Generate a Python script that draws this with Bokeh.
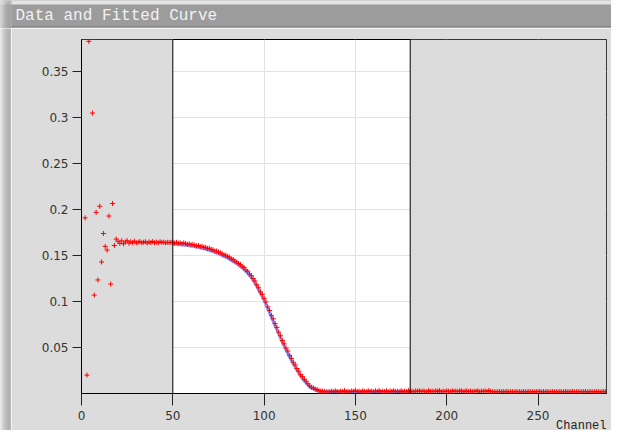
from bokeh.plotting import figure
from bokeh.layouts import column, row
from bokeh.models import BoxAnnotation, Span, Label, FixedTicker, Range1d
from bokeh.embed import file_html
from bokeh.resources import INLINE

# ---------------- data ----------------
title_text = "Data and Fitted Curve"
x_label = "Channel"
x_ticks = [0, 50, 100, 150, 200, 250]
x_tick_labels = ["0", "50", "100", "150", "200", "250"]
y_ticks = [0.05, 0.1, 0.15, 0.2, 0.25, 0.3, 0.35]
y_tick_labels = ["0.05", "0.1", "0.15", "0.2", "0.25", "0.3", "0.35"]
x_min, x_max = 0, 287.5
y_min, y_max = 0, 0.385
fit_start, fit_end = 50, 180

early_x = [2, 3, 4, 6, 7, 8, 9, 10, 11, 12, 13, 14, 15, 16, 17, 18, 19]
early_y = [0.191, 0.020, 0.383, 0.305, 0.107, 0.197, 0.1235, 0.2036, 0.143,
           0.174, 0.160, 0.156, 0.193, 0.119, 0.2066, 0.161, 0.168]

# channels 20..49
plateau_y = [0.1655, 0.1632, 0.1660, 0.1628, 0.1648, 0.1662, 0.1635, 0.1650, 0.1641, 0.1656,
             0.1637, 0.1646, 0.1652, 0.1639, 0.1645, 0.1650, 0.1636, 0.1648, 0.1642, 0.1653,
             0.1640, 0.1647, 0.1638, 0.1651, 0.1643, 0.1646, 0.1639, 0.1644, 0.1641, 0.1643]

# channels 50..135
decline_y = [0.1645, 0.1636, 0.1644, 0.1633, 0.1640, 0.1629, 0.1638, 0.1631, 0.1622, 0.1628,
             0.1617, 0.1622, 0.1614, 0.1606, 0.1610, 0.1598, 0.1601, 0.1592, 0.1589, 0.1577,
             0.1580, 0.1566, 0.1563, 0.1549, 0.1550, 0.1538, 0.1531, 0.1520, 0.1506, 0.1504,
             0.1490, 0.1482, 0.1465, 0.1458, 0.1440, 0.1431, 0.1414, 0.1404, 0.1382, 0.1370,
             0.1345, 0.1330, 0.1301, 0.1282, 0.1250, 0.1224, 0.1183, 0.1150, 0.1106, 0.1078,
             0.1034, 0.0995, 0.0942, 0.0903, 0.0850, 0.0812, 0.0760, 0.0719, 0.0668, 0.0628,
             0.0576, 0.0540, 0.0494, 0.0461, 0.0415, 0.0381, 0.0340, 0.0312, 0.0272, 0.0243,
             0.0205, 0.0183, 0.0154, 0.0133, 0.0106, 0.0084, 0.0068, 0.0061, 0.0049, 0.0042,
             0.0031, 0.0027, 0.0025, 0.0023, 0.0020, 0.0019]

# channels 136..287
tail_y = [0.0020, 0.0026, 0.0018, 0.0029, 0.0022, 0.0017, 0.0027, 0.0021, 0.0031, 0.0019,
          0.0024, 0.0018, 0.0028, 0.0022, 0.0033, 0.0020, 0.0025, 0.0017, 0.0029, 0.0023,
          0.0019, 0.0030, 0.0022, 0.0026, 0.0018, 0.0028, 0.0021, 0.0032, 0.0019, 0.0025,
          0.0022, 0.0029, 0.0017, 0.0027, 0.0023, 0.0031, 0.0020, 0.0024, 0.0018, 0.0030,
          0.0021, 0.0026, 0.0019, 0.0033, 0.0022, 0.0025, 0.0018, 0.0028, 0.0023, 0.0030,
          0.0020, 0.0027, 0.0024, 0.0017, 0.0031, 0.0022, 0.0026, 0.0019, 0.0029, 0.0023,
          0.0032, 0.0018, 0.0025, 0.0021, 0.0028, 0.0024, 0.0019, 0.0030, 0.0022, 0.0027,
          0.0020, 0.0026, 0.0031, 0.0018, 0.0024, 0.0029, 0.0021, 0.0027, 0.0019, 0.0025,
          0.0023, 0.0030, 0.0017, 0.0026, 0.0022, 0.0028, 0.0020, 0.0032, 0.0024, 0.0019,
          0.0021, 0.0016, 0.0019, 0.0022, 0.0017, 0.0020, 0.0018, 0.0023, 0.0016, 0.0021,
          0.0019, 0.0017, 0.0022, 0.0018, 0.0020, 0.0016, 0.0021, 0.0019, 0.0017, 0.0022,
          0.0018, 0.0020, 0.0016, 0.0021, 0.0019, 0.0023, 0.0017, 0.0020, 0.0018, 0.0022,
          0.0016, 0.0019, 0.0021, 0.0017, 0.0020, 0.0018, 0.0022, 0.0016, 0.0019, 0.0021,
          0.0017, 0.0020, 0.0018, 0.0023, 0.0016, 0.0019, 0.0021, 0.0017, 0.0020, 0.0018,
          0.0022, 0.0016, 0.0019, 0.0021, 0.0017, 0.0020, 0.0018, 0.0022, 0.0016, 0.0019,
          0.0021, 0.0017]

rest_y = plateau_y + decline_y + tail_y
data_x = early_x + list(range(20, 20 + len(rest_y)))
data_y = early_y + rest_y

fit_x = list(range(50, 136)) + [140, 150, 160, 170, 180]
fit_y = [0.1625, 0.1623, 0.1622, 0.1620, 0.1619, 0.1617, 0.1615, 0.1612, 0.1610, 0.1607,
         0.1605, 0.1601, 0.1597, 0.1593, 0.1589, 0.1585, 0.1579, 0.1574, 0.1568, 0.1563,
         0.1557, 0.1550, 0.1542, 0.1535, 0.1527, 0.1520, 0.1511, 0.1501, 0.1492, 0.1482,
         0.1473, 0.1460, 0.1448, 0.1435, 0.1423, 0.1410, 0.1396, 0.1381, 0.1365, 0.1347,
         0.1328, 0.1307, 0.1284, 0.1259, 0.1231, 0.1200, 0.1163, 0.1126, 0.1089, 0.1052,
         0.1015, 0.0969, 0.0923, 0.0877, 0.0831, 0.0785, 0.0739, 0.0693, 0.0647, 0.0601,
         0.0555, 0.0515, 0.0475, 0.0435, 0.0395, 0.0355, 0.0321, 0.0287, 0.0253, 0.0220,
         0.0187, 0.0163, 0.0139, 0.0115, 0.0091, 0.0068, 0.0058, 0.0049, 0.0040, 0.0031,
         0.0022, 0.0020, 0.0018, 0.0017, 0.0016, 0.0015,
         0.0015, 0.0015, 0.0015, 0.0015, 0.0015]

# ---------------- styles ----------------
PANEL = "#dcdcdc"
BAR = "#9c9c9c"
W = 611
TOP_H = 28
MAIN_H = 402
SIDE_W = 11
SHADE = ["#e8e8e8", "#dcdcdc", "#d0d0d0", "#c6c6c6", "#bcbcbc",
         "#b4b4b4", "#aeaeae", "#a8a8a8", "#a4a4a4", "#a2a2a2", "#b0b0b0"]


def no_frame_align(fig):
    if "frame_align" in fig.properties():
        fig.frame_align = False


def chrome_fig(w, h):
    f = figure(width=w, height=h, output_backend="svg", toolbar_location=None,
               x_range=Range1d(0, w), y_range=Range1d(0, h), min_border=0)
    no_frame_align(f)
    f.axis.visible = False
    f.grid.visible = False
    f.outline_line_color = None
    return f


def add_side_shadow(f):
    for i, c in enumerate(SHADE):
        f.add_layout(BoxAnnotation(left=i, right=i + 1, fill_color=c, fill_alpha=1.0,
                                   line_color=None))


# ---- title bar ----
top = chrome_fig(W, TOP_H)
top.border_fill_color = BAR
top.background_fill_color = BAR
top.add_layout(BoxAnnotation(bottom=TOP_H - 4, fill_color="#e4e4e4", fill_alpha=1.0,
                             line_color=None))
top.add_layout(BoxAnnotation(top=2, bottom=1, left=SIDE_W, fill_color="#6e6e6e",
                             fill_alpha=1.0, line_color=None))
top.add_layout(BoxAnnotation(top=1, left=SIDE_W, fill_color="#c8c8c8",
                             fill_alpha=1.0, line_color=None))
add_side_shadow(top)
top.add_layout(Label(x=15, y=13, text=title_text, text_font="Liberation Mono",
                     text_font_size="16px", text_color="#f2f2f2", text_baseline="middle"))

# ---- left window edge ----
side = chrome_fig(SIDE_W, MAIN_H)
side.border_fill_color = PANEL
side.background_fill_color = PANEL
add_side_shadow(side)

# ---- main plot ----
p = figure(width=W - SIDE_W, height=MAIN_H, output_backend="svg", toolbar_location=None,
           x_range=Range1d(x_min, x_max), y_range=Range1d(y_min, y_max),
           title=x_label, title_location="below",
           min_border_left=81 - SIDE_W, min_border_right=5, min_border_top=11,
           min_border_bottom=37)
no_frame_align(p)
p.background_fill_color = "white"
p.border_fill_color = PANEL
p.outline_line_color = "black"
p.outline_line_width = 1

# the x-axis name sits at the lower right, as in the original window
p.title.align = "right"
p.title.text_font = "Liberation Mono"
p.title.text_font_size = "12px"
p.title.text_font_style = "normal"
p.title.text_color = "#222222"
p.title.standoff = -20
p.title.offset = 0

p.xaxis.ticker = FixedTicker(ticks=x_ticks)
p.yaxis.ticker = FixedTicker(ticks=y_ticks)
p.xaxis.major_label_overrides = dict(zip(x_ticks, x_tick_labels))
p.yaxis.major_label_overrides = dict(zip(y_ticks, y_tick_labels))
p.xgrid.ticker = FixedTicker(ticks=x_ticks)
p.ygrid.ticker = FixedTicker(ticks=y_ticks)
p.grid.grid_line_color = "#e2e2e2"
p.grid.grid_line_width = 1

for ax in (p.xaxis, p.yaxis):
    ax.axis_line_color = "black"
    ax.major_tick_line_color = "#222222"
    ax.major_tick_in = 0
    ax.minor_tick_out = 0
    ax.minor_tick_in = 0
    ax.major_label_text_font = "DejaVu Sans"
    ax.major_label_text_font_size = "12px"
    ax.major_label_text_color = "#333333"
p.xaxis.major_tick_out = 12
p.yaxis.major_tick_out = 9
p.xaxis.major_label_standoff = 5
p.yaxis.major_label_standoff = 4

# shaded (outside fit range) regions
p.add_layout(BoxAnnotation(right=fit_start, fill_color=PANEL, fill_alpha=1.0,
                           line_color=None, level="underlay"))
p.add_layout(BoxAnnotation(left=fit_end, fill_color=PANEL, fill_alpha=1.0,
                           line_color=None, level="underlay"))
p.add_layout(Span(location=fit_start, dimension="height", line_color="black", line_width=1))
p.add_layout(Span(location=fit_end, dimension="height", line_color="black", line_width=1))

p.line(fit_x, fit_y, line_color="#6a6aff", line_width=3, line_alpha=0.75)
p.scatter(data_x, data_y, marker="cross", size=5, line_color="#ff0000", line_width=1)

layout = column(top, row(side, p, spacing=0), spacing=0)
open("out.html", "w").write(file_html(layout, INLINE))
